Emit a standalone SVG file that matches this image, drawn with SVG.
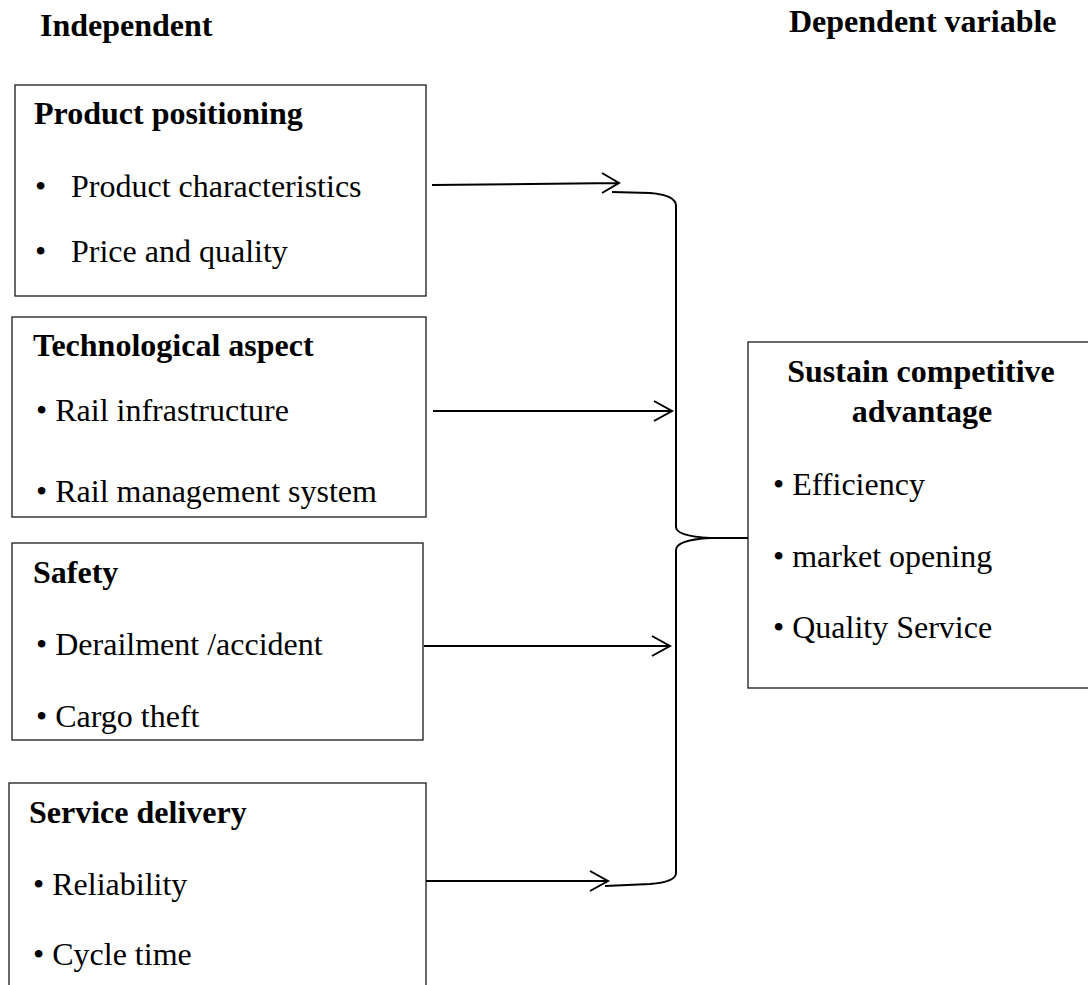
<svg xmlns="http://www.w3.org/2000/svg" width="1088" height="985" viewBox="0 0 1088 985">
<style>
.box{fill:#fff;stroke:#1a1a1a;stroke-width:1.3}
.t{font-family:"Liberation Serif","Times New Roman",serif;font-size:32px;fill:#000}
.b{font-weight:bold}
.c{fill:none;stroke:#000;stroke-width:2;stroke-linejoin:miter}
</style>
<rect width="1088" height="985" fill="#fff"/>
<text class="t b" x="40" y="36">Independent</text>
<text class="t b" x="789" y="32">Dependent variable</text>
<g id="n1">
<rect class="box" x="15" y="85" width="411" height="211"/>
<text class="t b" x="34" y="124">Product positioning</text>
<text class="t" x="35" y="197">•</text>
<text class="t" x="71" y="197">Product characteristics</text>
<text class="t" x="35" y="262">•</text>
<text class="t" x="71" y="262">Price and quality</text>
</g>
<g id="n2">
<rect class="box" x="12" y="317" width="414" height="200"/>
<text class="t b" x="33" y="356">Technological aspect</text>
<text class="t" x="36" y="421">• Rail infrastructure</text>
<text class="t" x="36" y="502">• Rail management system</text>
</g>
<g id="n3">
<rect class="box" x="12" y="543" width="411" height="197"/>
<text class="t b" x="33" y="583">Safety</text>
<text class="t" x="36" y="655">• Derailment /accident</text>
<text class="t" x="36" y="727">• Cargo theft</text>
</g>
<g id="n4">
<rect class="box" x="9" y="783" width="417" height="220"/>
<text class="t b" x="29" y="823">Service delivery</text>
<text class="t" x="33" y="895">• Reliability</text>
<text class="t" x="33" y="965">• Cycle time</text>
</g>
<g id="n5">
<rect class="box" x="748" y="342" width="360" height="346"/>
<text class="t b" text-anchor="middle" x="921" y="382">Sustain competitive</text>
<text class="t b" text-anchor="middle" x="922" y="422">advantage</text>
<text class="t" x="773" y="495">• Efficiency</text>
<text class="t" x="773" y="567">• market opening</text>
<text class="t" x="773" y="638">• Quality Service</text>
</g>
<g id="connectors">
<path class="c" d="M432,185 L619,183 M602,173 L619,183 L602,193"/>
<path class="c" d="M433,411 L672,411 M654,401 L672,411 L654,421"/>
<path class="c" d="M424,646 L670,646 M652,636 L670,646 L652,656"/>
<path class="c" d="M426,881 L608,881 M590,871 L608,881 L590,891"/>
<path class="c" d="M612,192 L650,193 Q676,195 676,206 L676,527 Q676,536 710,538 L748,538 M710,538 Q676,540 676,550 L676,873 Q676,882 650,884 L605,886"/>
</g>
</svg>
